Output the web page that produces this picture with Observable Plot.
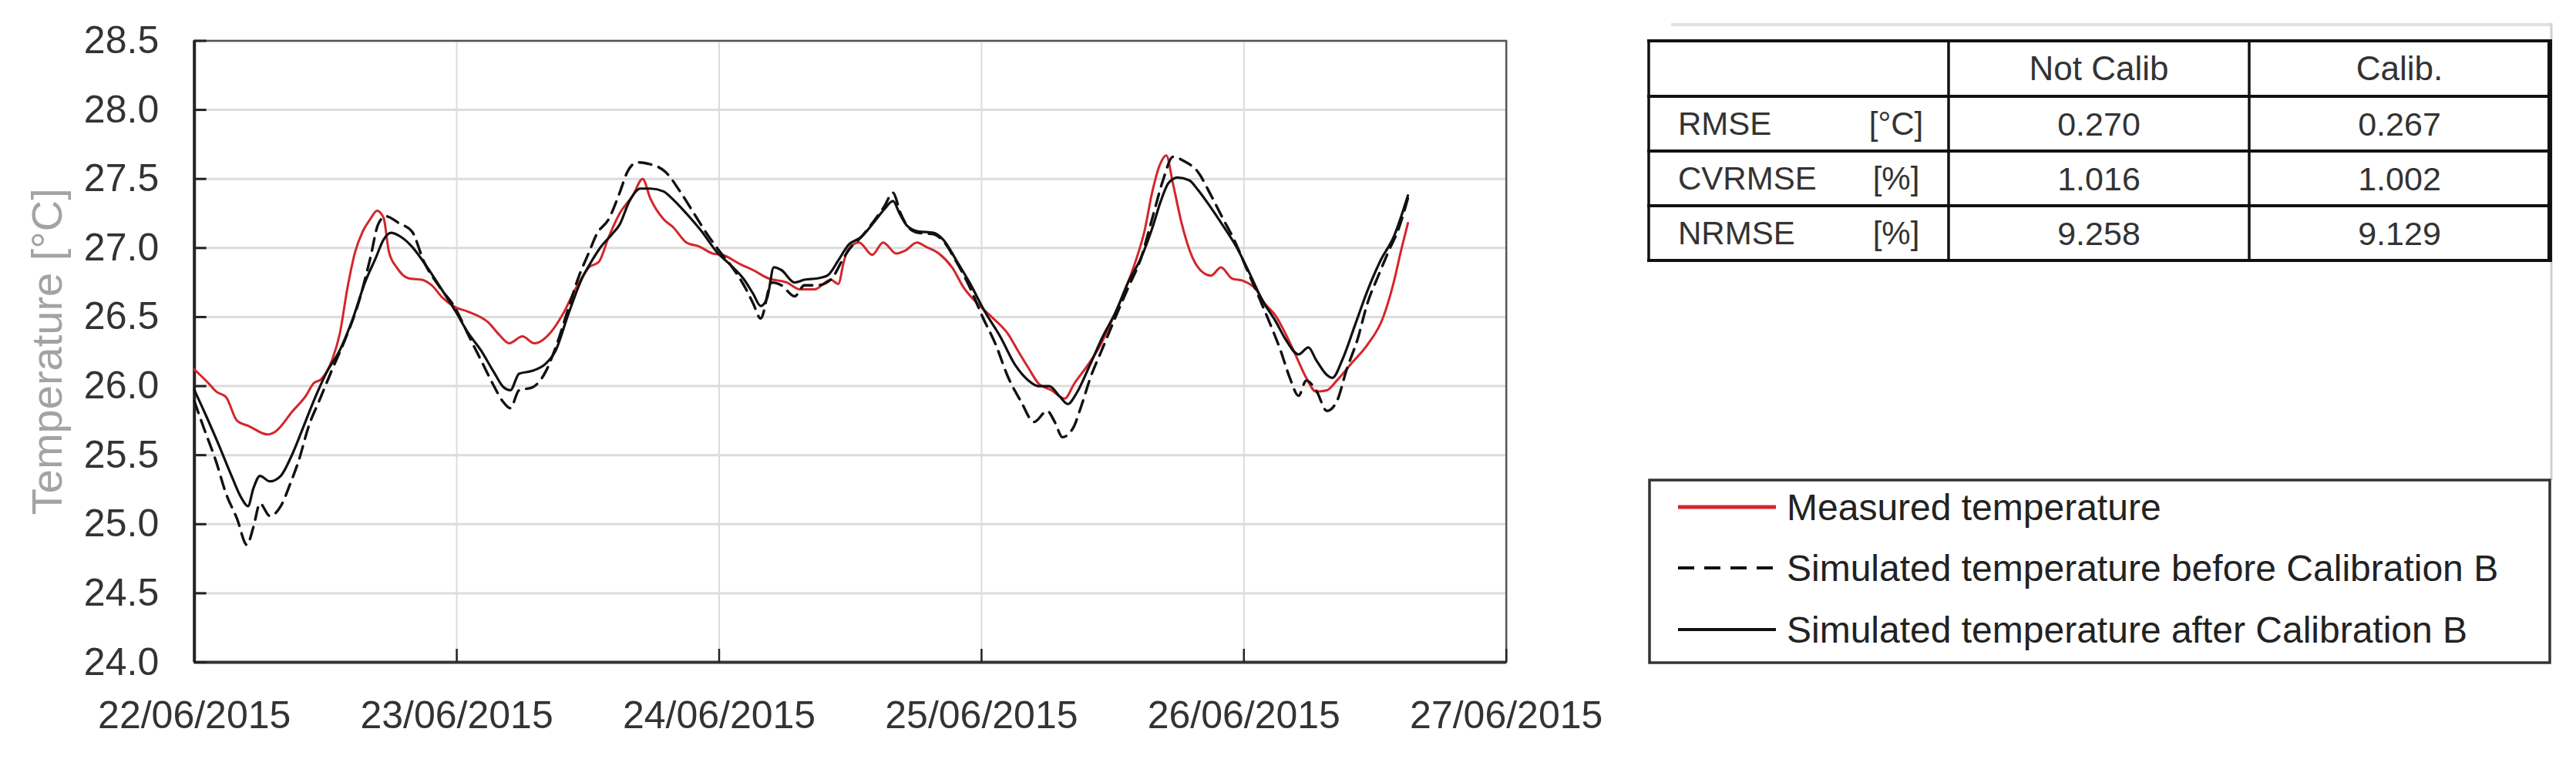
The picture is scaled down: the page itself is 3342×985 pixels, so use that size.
<!DOCTYPE html>
<html>
<head>
<meta charset="utf-8">
<script src="https://cdn.jsdelivr.net/npm/d3@7"></script>
<script src="https://cdn.jsdelivr.net/npm/@observablehq/plot@0.6"></script>
<style>
  html, body { margin: 0; padding: 0; background: #fff; }
  #page { position: relative; width: 3342px; height: 985px; background: #fff; overflow: hidden;
          font-family: "Liberation Sans", Arial, Helvetica, sans-serif; }
  #chart { position: absolute; left: 0; top: 0; }
  #side { position: absolute; left: 2100px; top: 0; }
</style>
</head>
<body>
<div id="page">
  <div id="chart"></div>
  <svg id="side" width="1242" height="985"></svg>
</div>
<script>
// ---------------- DATA ----------------
// hours since 22/06/2015 00:00
const measuredHours = [0,1.3,2.0,2.9,3.9,5.0,6.7,7.4,9.0,10.2,10.9,11.6,12.6,13.3,14.0,14.7,15.4,16.1,16.7,17.3,17.8,18.5,19.6,20.8,21.7,22.7,23.9,25.0,26.9,27.9,28.8,30.0,31.1,32.6,33.7,34.9,36.1,37.0,37.9,38.9,40.1,41.0,41.7,42.9,43.8,45.0,46.2,47.4,48.3,50.0,51.1,52.5,54.2,55.4,56.7,58.2,58.9,59.4,59.8,60.8,62.0,63.0,64.2,65.0,66.1,66.9,68.1,69.3,70.4,71.6,72.8,74.4,75.3,76.3,77.2,78.4,79.6,80.5,81.7,82.9,84.0,85.2,86.2,86.9,87.6,88.3,88.9,89.5,90.3,91.3,92.3,93.0,93.9,94.9,96.0,97.0,97.9,98.9,99.8,100.7,101.7,102.6,103.6,104.5,105.9,107.3,108.7,109.7,110.4,111.0];
const measuredTemp  = [26.12,26.02,25.96,25.92,25.75,25.71,25.65,25.67,25.82,25.93,26.02,26.05,26.19,26.38,26.71,26.97,27.12,27.21,27.27,27.22,26.97,26.86,26.78,26.77,26.73,26.64,26.57,26.54,26.46,26.37,26.31,26.36,26.31,26.39,26.52,26.71,26.86,26.90,27.08,27.25,27.38,27.50,27.36,27.21,27.15,27.04,27.01,26.96,26.95,26.88,26.84,26.78,26.75,26.70,26.70,26.77,26.74,26.90,26.99,27.04,26.95,27.04,26.96,26.98,27.04,27.01,26.96,26.86,26.71,26.60,26.51,26.38,26.26,26.13,26.02,25.97,25.91,26.02,26.15,26.30,26.49,26.71,26.93,27.12,27.40,27.60,27.67,27.47,27.18,26.93,26.82,26.80,26.86,26.78,26.76,26.71,26.60,26.51,26.38,26.23,26.06,25.96,25.97,26.04,26.17,26.30,26.49,26.75,26.99,27.18];

const beforeHours = [0,0.8,2.0,2.9,3.9,4.8,5.4,6.0,6.9,7.9,8.8,9.5,10.5,11.4,12.6,13.8,15.0,16.1,16.8,17.5,18.7,19.9,21.0,22.5,23.9,25.0,26.2,27.4,28.2,28.9,29.7,30.9,32.1,33.0,34.2,35.1,36.1,36.8,37.9,38.9,39.6,40.5,41.5,43.1,44.5,45.7,46.9,48.1,49.2,50.4,51.1,51.8,52.8,53.7,54.9,55.8,57.0,58.2,59.4,60.0,61.0,62.2,63.1,63.9,64.6,65.3,66.2,67.6,68.5,69.7,70.9,72.1,73.3,74.4,75.6,76.8,78.0,78.7,79.4,80.4,81.1,82.0,83.0,84.2,85.4,86.6,87.6,88.6,89.5,90.5,91.8,93.0,94.1,95.1,96.3,97.5,98.4,99.3,100.2,101.0,101.7,102.6,103.6,104.5,105.4,106.4,107.3,108.3,109.2,110.2,111.0];
const beforeTemp  = [25.89,25.71,25.45,25.22,25.04,24.85,24.98,25.15,25.06,25.13,25.30,25.45,25.72,25.89,26.12,26.34,26.60,26.93,27.17,27.23,27.18,27.12,26.90,26.71,26.56,26.38,26.19,26.00,25.89,25.84,25.97,25.99,26.10,26.27,26.56,26.78,26.97,27.10,27.21,27.40,27.55,27.62,27.61,27.55,27.40,27.25,27.10,26.97,26.86,26.71,26.60,26.49,26.75,26.73,26.65,26.73,26.73,26.77,26.93,27.00,27.08,27.20,27.30,27.40,27.25,27.15,27.11,27.10,27.05,26.90,26.72,26.50,26.30,26.07,25.89,25.74,25.82,25.74,25.63,25.70,25.85,26.07,26.26,26.49,26.71,26.93,27.21,27.49,27.66,27.63,27.55,27.38,27.21,27.06,26.84,26.62,26.45,26.27,26.06,25.93,26.04,25.97,25.82,25.89,26.12,26.34,26.60,26.80,26.97,27.15,27.36];

const afterHours = [0,1.1,2.2,3.4,4.3,4.9,5.4,6.0,6.9,7.9,8.8,9.8,10.9,12.1,13.3,14.5,15.6,16.6,17.3,18.0,18.9,19.9,21.3,22.7,23.9,25.0,26.2,27.4,28.3,28.9,29.7,30.9,32.1,33.0,34.2,35.4,36.3,37.2,38.2,38.9,39.8,40.8,41.7,42.9,43.8,45.0,46.4,47.8,49.0,50.2,51.1,51.8,52.4,53.0,53.7,54.9,55.8,57.0,57.9,58.9,59.8,61.0,62.2,63.1,63.9,64.5,65.2,66.2,67.6,68.5,69.7,70.9,72.3,73.7,75.1,76.3,77.2,78.2,79.1,79.9,80.7,81.9,83.1,84.3,85.4,86.6,87.6,88.4,89.1,89.9,91.0,91.8,93.0,94.1,95.3,96.5,97.7,98.9,99.8,101.0,101.9,102.6,103.6,104.1,105.0,106.2,107.3,108.5,109.7,111.0];
const afterTemp  = [25.97,25.78,25.58,25.35,25.19,25.13,25.26,25.35,25.31,25.35,25.48,25.67,25.89,26.10,26.26,26.49,26.75,26.93,27.06,27.11,27.08,27.01,26.86,26.69,26.54,26.39,26.26,26.10,25.99,25.97,26.09,26.11,26.16,26.25,26.52,26.77,26.90,27.01,27.10,27.17,27.34,27.43,27.43,27.41,27.35,27.25,27.12,26.97,26.88,26.78,26.67,26.58,26.64,26.86,26.84,26.75,26.77,26.78,26.80,26.91,27.02,27.08,27.19,27.28,27.34,27.25,27.16,27.12,27.11,27.06,26.91,26.75,26.54,26.36,26.15,26.04,26.00,26.00,25.93,25.87,25.95,26.15,26.36,26.54,26.75,26.93,27.14,27.34,27.47,27.51,27.49,27.42,27.29,27.16,27.01,26.82,26.62,26.47,26.34,26.23,26.28,26.19,26.08,26.06,26.19,26.45,26.69,26.91,27.08,27.38];

const seriesNames = ["Measured temperature", "Simulated temperature before Calibration B", "Simulated temperature after Calibration B"];
const yTitle = "Temperature [°C]";
const yTicks = [24.0, 24.5, 25.0, 25.5, 26.0, 26.5, 27.0, 27.5, 28.0, 28.5];
const xTickLabels = ["22/06/2015", "23/06/2015", "24/06/2015", "25/06/2015", "26/06/2015", "27/06/2015"];

const tableHeader = ["", "Not Calib", "Calib."];
const metricNames = ["RMSE", "CVRMSE", "NRMSE"];
const metricUnits = ["[°C]", "[%]", "[%]"];
const notCalibValues = ["0.270", "1.016", "9.258"];
const calibValues = ["0.267", "1.002", "9.129"];

// ---------------- BUILD ----------------
const parseDay = d3.utcParse("%d/%m/%Y");
const dayTicks = xTickLabels.map(parseDay);
const t0 = dayTicks[0].getTime();
const toRows = (hours, temps, name) => hours.map((h, i) => ({date: new Date(t0 + h * 3600e3), temp: temps[i], series: name}));
const measured = toRows(measuredHours, measuredTemp, seriesNames[0]);
const before = toRows(beforeHours, beforeTemp, seriesNames[1]);
const after = toRows(afterHours, afterTemp, seriesNames[2]);

const RED = "#d3262b";
const fmtDay = d3.utcFormat("%d/%m/%Y");

const chart = Plot.plot({
  width: 2100,
  height: 985,
  marginLeft: 251.7,
  marginRight: 146.3,
  marginTop: 52.5,
  marginBottom: 126,
  style: {fontFamily: '"Liberation Sans", Arial, Helvetica, sans-serif', fontSize: "50px", color: "#333", background: "transparent", overflow: "visible"},
  x: {type: "utc", domain: [dayTicks[0], dayTicks[dayTicks.length - 1]], label: null},
  y: {domain: [yTicks[0], yTicks[yTicks.length - 1]], label: null},
  marks: [
    Plot.gridY({ticks: yTicks, stroke: "#dcdcdc", strokeOpacity: 1, strokeWidth: 3}),
    Plot.gridX({ticks: dayTicks, stroke: "#dcdcdc", strokeOpacity: 1, strokeWidth: 2}),
    Plot.frame({stroke: "#555", strokeWidth: 2.5}),
    Plot.ruleX([dayTicks[0]], {stroke: "#222", strokeWidth: 4}),
    Plot.ruleY([yTicks[0]], {stroke: "#333", strokeWidth: 4}),
    Plot.axisY({ticks: yTicks, tickSize: 0, tickPadding: 46, tickFormat: d3.format(".1f"), fill: "#333", label: null}),
    Plot.axisY({ticks: yTicks, tickSize: 16, dx: 16, tickFormat: () => "", stroke: "#222", strokeWidth: 3, label: null}),
    Plot.axisX({ticks: dayTicks, tickSize: 0, tickPadding: 50, tickFormat: fmtDay, fill: "#333", label: null}),
    Plot.axisX({ticks: dayTicks, tickSize: 17, dy: -17, tickFormat: () => "", stroke: "#222", strokeWidth: 2.5, label: null}),
    Plot.text([yTitle], {frameAnchor: "left", dx: -190, rotate: -90, fill: "#a3a3a3", fontSize: 56, textAnchor: "middle", lineAnchor: "middle"}),
    Plot.line(measured, {x: "date", y: "temp", stroke: RED, strokeWidth: 3, curve: "monotone-x"}),
    Plot.line(before, {x: "date", y: "temp", stroke: "#111", strokeWidth: 3.4, strokeDasharray: "16,10", curve: "monotone-x"}),
    Plot.line(after, {x: "date", y: "temp", stroke: "#111", strokeWidth: 3.2, curve: "monotone-x"})
  ]
});
document.getElementById("chart").appendChild(chart);

// ---------------- SIDE PANEL: table + legend ----------------
const side = d3.select("#side");
const OX = 2100;
const font = '"Liberation Sans", Arial, Helvetica, sans-serif';

// light outer frame lines
side.append("line").attr("x1", 2168 - OX).attr("x2", 3310 - OX).attr("y1", 32).attr("y2", 32)
  .attr("stroke", "#e0e0e0").attr("stroke-width", 4);
side.append("line").attr("x1", 3310 - OX).attr("x2", 3310 - OX).attr("y1", 30).attr("y2", 623)
  .attr("stroke", "#d0d0d0").attr("stroke-width", 3);

// table
const colX = [2139, 2528, 2918, 3308].map(v => v - OX);
const rowY = [53, 125, 196, 267, 338];
const tbl = side.append("g").attr("font-family", font).attr("fill", "#333");
rowY.forEach((y, i) => {
  tbl.append("line").attr("x1", colX[0] - 2).attr("x2", colX[3] + 3).attr("y1", y).attr("y2", y)
    .attr("stroke", "#111").attr("stroke-width", 4);
});
colX.forEach((x, i) => {
  tbl.append("line").attr("x1", x).attr("x2", x).attr("y1", rowY[0]).attr("y2", rowY[4])
    .attr("stroke", "#111").attr("stroke-width", i === 3 ? 6 : 3.5);
});
const cellCY = i => (rowY[i] + rowY[i + 1]) / 2;
const colCX = j => (colX[j] + colX[j + 1]) / 2;
tableHeader.forEach((t, j) => {
  if (!t) return;
  tbl.append("text").attr("x", colCX(j)).attr("y", cellCY(0)).attr("dy", "0.35em")
    .attr("text-anchor", "middle").attr("font-size", 44).text(t);
});
metricNames.forEach((m, i) => {
  const cy = cellCY(i + 1);
  tbl.append("text").attr("x", 2177 - OX).attr("y", cy).attr("dy", "0.35em").attr("font-size", 42).text(m);
  tbl.append("text").attr("x", 2460 - OX).attr("y", cy).attr("dy", "0.35em").attr("text-anchor", "middle").attr("font-size", 42).text(metricUnits[i]);
  tbl.append("text").attr("x", colCX(1)).attr("y", cy).attr("dy", "0.35em").attr("text-anchor", "middle").attr("font-size", 43).text(notCalibValues[i]);
  tbl.append("text").attr("x", colCX(2)).attr("y", cy).attr("dy", "0.35em").attr("text-anchor", "middle").attr("font-size", 43).text(calibValues[i]);
});

// legend
const lg = side.append("g").attr("font-family", font);
lg.append("rect").attr("x", 2140 - OX).attr("y", 623).attr("width", 3308 - 2140).attr("height", 860 - 623)
  .attr("fill", "#fff").attr("stroke", "#333").attr("stroke-width", 3.5);
const legendStyles = [
  {stroke: RED, width: 5, dash: null},
  {stroke: "#111", width: 4, dash: "21,13"},
  {stroke: "#111", width: 4, dash: null}
];
const legendY = [658, 737, 817];
seriesNames.forEach((name, i) => {
  const s = legendStyles[i];
  const ln = lg.append("line").attr("x1", 2177 - OX).attr("x2", 2304 - OX).attr("y1", legendY[i]).attr("y2", legendY[i])
    .attr("stroke", s.stroke).attr("stroke-width", s.width);
  if (s.dash) ln.attr("stroke-dasharray", s.dash);
  lg.append("text").attr("x", 2318 - OX).attr("y", legendY[i]).attr("dy", "0.35em")
    .attr("font-size", 48).attr("fill", "#222").text(name);
});
</script>
</body>
</html>
